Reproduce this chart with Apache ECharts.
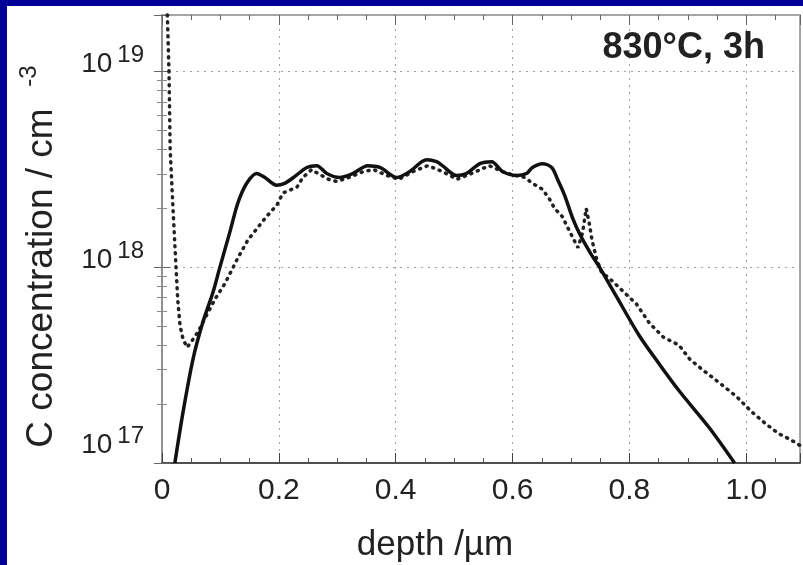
<!DOCTYPE html>
<html>
<head>
<meta charset="utf-8">
<script src="https://cdn.jsdelivr.net/npm/echarts@6.0.0/dist/echarts.min.js"></script>
<style>
  html, body { margin: 0; padding: 0; width: 803px; height: 565px; background: #000099; overflow: hidden; }
  #chart { position: absolute; left: 7px; top: 6px; width: 796px; height: 559px; background: #ffffff; }
</style>
</head>
<body>
<div id="chart"></div>
<script>
// ---- data (depth in µm, carbon concentration in cm^-3) ----
const simDepth = [0.022,0.036,0.053,0.070,0.087,0.099,0.116,0.130,0.145,0.162,0.176,0.196,0.210,0.225,0.248,0.265,0.282,0.304,0.327,0.352,0.373,0.402,0.424,0.453,0.470,0.480,0.504,0.521,0.544,0.564,0.583,0.607,0.624,0.634,0.651,0.667,0.677,0.689,0.703,0.715,0.732,0.749,0.778,0.817,0.850,0.885,0.937,0.980];
const simConc = [1.00e17,1.82e17,3.39e17,5.25e17,7.41e17,1.00e18,1.51e18,2.14e18,2.69e18,3.02e18,2.88e18,2.63e18,2.69e18,2.88e18,3.24e18,3.31e18,3.02e18,2.88e18,3.02e18,3.31e18,3.24e18,2.88e18,3.09e18,3.55e18,3.47e18,3.31e18,2.95e18,3.02e18,3.39e18,3.47e18,3.09e18,2.95e18,3.02e18,3.24e18,3.39e18,3.24e18,2.82e18,2.34e18,1.78e18,1.48e18,1.20e18,1.00e18,7.08e17,4.47e17,3.24e17,2.34e17,1.51e17,1.00e17];

const measDepth = [0.008,0.010,0.012,0.014,0.019,0.024,0.027,0.031,0.036,0.043,0.051,0.062,0.075,0.091,0.108,0.130,0.147,0.179,0.197,0.207,0.231,0.241,0.256,0.267,0.285,0.299,0.320,0.345,0.362,0.385,0.405,0.430,0.455,0.480,0.505,0.530,0.560,0.590,0.621,0.634,0.651,0.663,0.672,0.685,0.700,0.712,0.720,0.726,0.731,0.736,0.744,0.752,0.771,0.788,0.812,0.834,0.858,0.885,0.903,0.925,0.954,0.983,1.010,1.034,1.056,1.075,1.092];
const measConc = [2.5e19,1.6e19,9.9e18,4.0e18,1.95e18,1.0e18,6.8e17,5.0e17,4.3e17,3.9e17,4.2e17,4.7e17,5.6e17,6.9e17,8.3e17,1.12e18,1.38e18,1.82e18,2.09e18,2.40e18,2.57e18,2.88e18,3.16e18,3.02e18,2.82e18,2.75e18,2.88e18,3.09e18,3.16e18,2.95e18,2.82e18,3.09e18,3.31e18,3.09e18,2.82e18,3.02e18,3.31e18,3.02e18,2.88e18,2.69e18,2.51e18,2.24e18,2.00e18,1.82e18,1.48e18,1.26e18,1.51e18,2.00e18,1.70e18,1.38e18,1.10e18,9.5e17,8.5e17,7.6e17,6.5e17,5.2e17,4.4e17,4.0e17,3.4e17,3.0e17,2.57e17,2.19e17,1.82e17,1.58e17,1.41e17,1.32e17,1.23e17];

const xTickValues = [0, 0.2, 0.4, 0.6, 0.8, 1.0];
const xTickLabels = ['0', '0.2', '0.4', '0.6', '0.8', '1.0'];
const yTickExponents = [17, 18, 19];
const titleText = '830°C, 3h';
const xAxisTitle = 'depth /µm';
const yAxisTitle = 'C concentration / cm';
const yAxisTitleExp = '-3';

// ---- build ----
const FONT = '"Liberation Sans", Arial, Helvetica, sans-serif';
const X_MAX = 1.092, Y_MIN = 17, Y_MAX = 19.29;
const toPairs = (xs, cs) => xs.map((x, i) => [x, Math.log10(cs[i])]);

const xMinor = [];
for (let i = 1; i * 0.05 < X_MAX; i++) { if (i % 4) xMinor.push(+(i * 0.05).toFixed(2)); }
const yMinor = [];
for (let e = 17; e < 20; e++) for (let k = 2; k <= 9; k++) { const v = e + Math.log10(k); if (v < Y_MAX) yMinor.push(v); }

function xLabel(v) {
  for (let i = 0; i < xTickValues.length; i++) if (Math.abs(v - xTickValues[i]) < 1e-6) return xTickLabels[i];
  return '';
}
function yLabel(v) {
  const e = Math.round(v);
  if (Math.abs(v - e) > 1e-6 || yTickExponents.indexOf(e) < 0) return '';
  return e === Y_MIN ? '{b|10}{s|' + e + '}\n{g| }' : '{b|10}{s|' + e + '}';
}

const baseX = { type: 'value', min: 0, max: X_MAX, interval: 0.2, gridIndex: 0 };
const baseY = { type: 'value', min: Y_MIN, max: Y_MAX, interval: 1, gridIndex: 0 };
const hidden = { axisLine: { show: false }, axisLabel: { show: false }, splitLine: { show: false } };

const option = {
  animation: false,
  backgroundColor: '#ffffff',
  grid: { left: 155, top: 9, right: 2, bottom: 102, show: true, borderColor: '#8a8a8a', borderWidth: 1.5, backgroundColor: 'transparent' },
  xAxis: [
    Object.assign({}, baseX, {
      position: 'bottom',
      axisLine: { show: true, onZero: false, lineStyle: { color: '#333', width: 1.5 } },
      axisTick: { show: true, inside: true, length: 10, lineStyle: { color: '#444', width: 1 } },
      axisLabel: { show: true, fontSize: 30, fontFamily: FONT, color: '#222', margin: 13, formatter: xLabel },
      splitLine: { show: true, lineStyle: { type: [2, 5], color: '#a0a0a0', width: 1 } }
    }),
    Object.assign({}, baseX, hidden, { position: 'bottom',
      axisTick: { show: true, inside: true, length: 5, customValues: xMinor, lineStyle: { color: '#555' } } }),
    Object.assign({}, baseX, hidden, { position: 'top',
      axisTick: { show: true, inside: true, length: 10, lineStyle: { color: '#666' } } }),
    Object.assign({}, baseX, hidden, { position: 'top',
      axisTick: { show: true, inside: true, length: 5, customValues: xMinor, lineStyle: { color: '#666' } } })
  ],
  yAxis: [
    Object.assign({}, baseY, {
      position: 'left',
      axisLine: { show: true, onZero: false, lineStyle: { color: '#888', width: 1.5 } },
      axisTick: { show: true, inside: true, length: 8, lineStyle: { color: '#666' } },
      axisLabel: {
        show: true, formatter: yLabel, margin: 18, padding: [0, 0, 14, 0],
        rich: {
          b: { fontSize: 28, fontFamily: FONT, color: '#222', lineHeight: 42, verticalAlign: 'middle' },
          s: { fontSize: 24, fontFamily: FONT, color: '#222', lineHeight: 24, verticalAlign: 'top', padding: [0, 0, 0, 5] },
          g: { fontSize: 10, lineHeight: 22 }
        }
      },
      splitLine: { show: true, lineStyle: { type: [2, 5], color: '#a0a0a0', width: 1 } }
    }),
    Object.assign({}, baseY, hidden, { position: 'left',
      axisTick: { show: true, inside: true, length: 5, customValues: yMinor, lineStyle: { color: '#888' } } }),
    Object.assign({}, baseY, hidden, { position: 'right',
      axisTick: { show: true, inside: true, length: 8, lineStyle: { color: '#666' } } }),
    Object.assign({}, baseY, hidden, { position: 'right',
      axisTick: { show: true, inside: true, length: 5, customValues: yMinor, lineStyle: { color: '#888' } } })
  ],
  series: [
    {
      name: 'simulation', type: 'line', xAxisIndex: 0, yAxisIndex: 0,
      data: toPairs(simDepth, simConc), showSymbol: false, symbol: 'none', smooth: 0.3, clip: true,
      lineStyle: { color: '#111', width: 3.5 }, z: 5
    },
    {
      name: 'measurement', type: 'line', xAxisIndex: 0, yAxisIndex: 0,
      data: toPairs(measDepth, measConc), showSymbol: false, symbol: 'none', clip: true,
      lineStyle: { color: '#222', width: 3.5, type: [1, 6], cap: 'round' }, z: 4
    }
  ],
  graphic: [
    { type: 'text', x: 758, y: 42, z: 10,
      style: { text: titleText, font: 'bold 36px ' + FONT, fill: '#222', textAlign: 'right', textVerticalAlign: 'middle', align: 'right', verticalAlign: 'middle' } },
    { type: 'text', x: 35, y: 272, rotation: Math.PI / 2, z: 10,
      style: { text: yAxisTitle, font: '37px ' + FONT, fill: '#222', textAlign: 'center', textVerticalAlign: 'middle', align: 'center', verticalAlign: 'middle' } },
    { type: 'text', x: 22, y: 70, rotation: Math.PI / 2, z: 10,
      style: { text: yAxisTitleExp, font: '24px ' + FONT, fill: '#222', textAlign: 'center', textVerticalAlign: 'middle', align: 'center', verticalAlign: 'middle' } },
    { type: 'text', x: 428, y: 539, z: 10,
      style: { text: xAxisTitle, font: '35px ' + FONT, fill: '#222', textAlign: 'center', textVerticalAlign: 'middle', align: 'center', verticalAlign: 'middle' } }
  ]
};

const chart = echarts.init(document.getElementById('chart'), null, { renderer: 'canvas' });
chart.setOption(option);
</script>
</body>
</html>
